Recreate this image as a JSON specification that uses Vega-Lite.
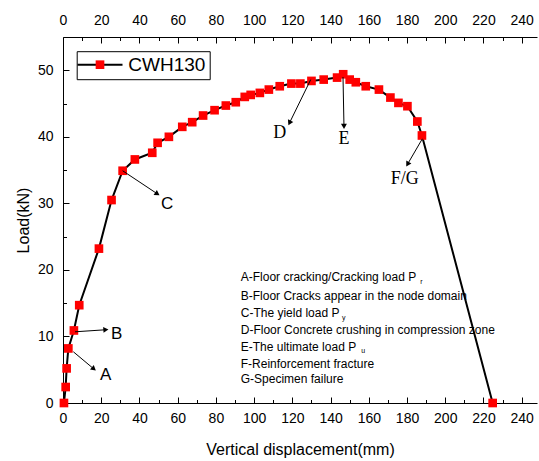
{
  "$schema": "https://vega.github.io/schema/vega-lite/v6.json",
  "width": 474,
  "height": 366,
  "autosize": {"type": "none"},
  "padding": {"left": 63, "top": 37, "right": 2, "bottom": 58},
  "background": "white",
  "config": {
    "view": {"stroke": null},
    "axis": {
      "labelFont": "Liberation Sans", "titleFont": "Liberation Sans",
      "labelColor": "black", "titleColor": "black",
      "domainColor": "black", "tickColor": "black",
      "grid": false, "labelFontSize": 14, "titleFontSize": 16,
      "titleFontWeight": "normal", "domainWidth": 1, "tickWidth": 1
    },
    "legend": {"strokeWidth": 1}
  },
  "datasets": {
    "curve": [
      {"disp": 0.5, "load": 0, "series": "CWH130"},
      {"disp": 1.4, "load": 2.4, "series": "CWH130"},
      {"disp": 1.9, "load": 5.2, "series": "CWH130"},
      {"disp": 2.8, "load": 8.2, "series": "CWH130"},
      {"disp": 5.7, "load": 10.9, "series": "CWH130"},
      {"disp": 8.5, "load": 14.7, "series": "CWH130"},
      {"disp": 18.8, "load": 23.2, "series": "CWH130"},
      {"disp": 25.4, "load": 30.5, "series": "CWH130"},
      {"disp": 31.2, "load": 34.9, "series": "CWH130"},
      {"disp": 37.6, "load": 36.6, "series": "CWH130"},
      {"disp": 46.7, "load": 37.6, "series": "CWH130"},
      {"disp": 49.5, "load": 39.1, "series": "CWH130"},
      {"disp": 55.4, "load": 40.0, "series": "CWH130"},
      {"disp": 62.4, "load": 41.5, "series": "CWH130"},
      {"disp": 67.6, "load": 42.2, "series": "CWH130"},
      {"disp": 73.3, "load": 43.2, "series": "CWH130"},
      {"disp": 79.3, "load": 44.0, "series": "CWH130"},
      {"disp": 85.2, "load": 44.7, "series": "CWH130"},
      {"disp": 90.4, "load": 45.2, "series": "CWH130"},
      {"disp": 95.1, "load": 46.0, "series": "CWH130"},
      {"disp": 98.2, "load": 46.3, "series": "CWH130"},
      {"disp": 103.0, "load": 46.6, "series": "CWH130"},
      {"disp": 107.7, "load": 47.1, "series": "CWH130"},
      {"disp": 113.4, "load": 47.6, "series": "CWH130"},
      {"disp": 119.5, "load": 48.0, "series": "CWH130"},
      {"disp": 124.2, "load": 48.0, "series": "CWH130"},
      {"disp": 130.0, "load": 48.4, "series": "CWH130"},
      {"disp": 136.4, "load": 48.6, "series": "CWH130"},
      {"disp": 143.4, "load": 48.9, "series": "CWH130"},
      {"disp": 146.6, "load": 49.4, "series": "CWH130"},
      {"disp": 150.0, "load": 48.6, "series": "CWH130"},
      {"disp": 153.2, "load": 48.2, "series": "CWH130"},
      {"disp": 158.4, "load": 47.6, "series": "CWH130"},
      {"disp": 165.3, "load": 47.1, "series": "CWH130"},
      {"disp": 171.3, "load": 45.9, "series": "CWH130"},
      {"disp": 175.5, "load": 45.1, "series": "CWH130"},
      {"disp": 180.2, "load": 44.6, "series": "CWH130"},
      {"disp": 185.4, "load": 42.3, "series": "CWH130"},
      {"disp": 187.8, "load": 40.2, "series": "CWH130"},
      {"disp": 224.8, "load": 0, "series": "CWH130"}
    ],
    "arrows": [
      {"id": "A", "x": 5.4, "y": 7.7, "x2": 15.8, "y2": 5.2},
      {"id": "B", "x": 6.3, "y": 10.7, "x2": 22.0, "y2": 11.0},
      {"id": "C", "x": 31.2, "y": 34.9, "x2": 49.0, "y2": 31.5},
      {"id": "D", "x": 129.6, "y": 48.6, "x2": 118.7, "y2": 42.2},
      {"id": "E", "x": 146.5, "y": 49.0, "x2": 147.0, "y2": 41.7},
      {"id": "F/G", "x": 188.0, "y": 39.7, "x2": 180.5, "y2": 36.0}
    ],
    "sansLetters": [
      {"x": 22.3, "y": 4.2, "text": "A"},
      {"x": 28.1, "y": 10.4, "text": "B"},
      {"x": 54.5, "y": 29.9, "text": "C"}
    ],
    "serifLetters": [
      {"x": 113.4, "y": 40.6, "text": "D"},
      {"x": 147.0, "y": 39.6, "text": "E"},
      {"x": 178.8, "y": 33.6, "text": "F/G"}
    ],
    "notes": [
      {"x": 93.0, "y": 18.98, "text": "A-Floor cracking/Cracking load P"},
      {"x": 93.0, "y": 16.12, "text": "B-Floor Cracks appear in the node domain"},
      {"x": 93.0, "y": 13.57, "text": "C-The yield load P"},
      {"x": 93.0, "y": 10.97, "text": "D-Floor Concrete crushing in compression zone"},
      {"x": 93.0, "y": 8.46, "text": "E-The ultimate load P"},
      {"x": 93.0, "y": 5.86, "text": "F-Reinforcement fracture"},
      {"x": 93.0, "y": 3.56, "text": "G-Specimen failure"}
    ],
    "subs": [
      {"x": 186.9, "y": 18.23, "text": "r"},
      {"x": 146.0, "y": 12.73, "text": "y"},
      {"x": 156.1, "y": 7.86, "text": "u"}
    ]
  },
  "resolve": {"axis": {"x": "independent", "y": "independent"}},
  "layer": [
    {
      "data": {"name": "curve"},
      "mark": {"type": "line", "strokeWidth": 2},
      "encoding": {
        "x": {"field": "disp", "type": "quantitative",
          "scale": {"domain": [0, 248], "nice": false, "zero": false},
          "axis": {"orient": "bottom", "values": [0,20,40,60,80,100,120,140,160,180,200,220,240],
            "tickSize": -6, "labelPadding": 14, "title": "Vertical displacement(mm)", "titlePadding": 16, "labelFlush": false}},
        "y": {"field": "load", "type": "quantitative",
          "scale": {"domain": [0, 55], "nice": false},
          "axis": {"orient": "left", "values": [0,10,20,30,40,50],
            "tickSize": -6, "labelPadding": 16, "title": "Load(kN)", "titlePadding": 6, "labelFlush": false}},
        "stroke": {"datum": "CWH130", "scale": {"range": ["black"]},
          "legend": {"orient": "none", "legendX": 13.7, "legendY": 14.2, "title": null,
            "symbolType": "M-5,0L5,0", "symbolSize": 81, "symbolStrokeWidth": 2, "symbolOffset": 9.8,
            "labelFont": "Liberation Sans", "labelFontSize": 19, "labelColor": "black",
            "labelOffset": 18.8, "strokeColor": "black", "fillColor": "white", "padding": 4}}
      }
    },
    {
      "data": {"name": "curve"},
      "mark": {"type": "point", "shape": "square", "filled": true, "size": 75, "opacity": 1, "strokeWidth": 0},
      "encoding": {
        "x": {"field": "disp", "type": "quantitative",
          "scale": {"domain": [0, 248], "nice": false, "zero": false},
          "axis": {"orient": "top", "values": [0,20,40,60,80,100,120,140,160,180,200,220,240],
            "tickSize": -6, "labelPadding": 16, "title": null, "labelFlush": false}},
        "y": {"field": "load", "type": "quantitative",
          "scale": {"domain": [0, 55], "nice": false},
          "axis": {"orient": "left", "values": [5,15,25,35,45], "tickSize": -3.5,
            "labels": false, "domain": false, "title": null}},
        "fill": {"field": "series", "type": "nominal", "scale": {"range": ["#ff0000"]},
          "legend": {"orient": "none", "legendX": 23.5, "legendY": 14.2, "title": null,
            "symbolType": "square", "symbolSize": 75, "symbolStrokeWidth": 0, "symbolOpacity": 1,
            "labelFont": "Liberation Sans", "labelFontSize": 19, "labelExpr": "''", "padding": 4,
            "strokeColor": "transparent"}}
      }
    },
    {
      "data": {"name": "arrows"},
      "mark": {"type": "rule", "strokeWidth": 1, "color": "black"},
      "encoding": {
        "x": {"field": "x", "type": "quantitative",
          "scale": {"domain": [0, 248], "nice": false, "zero": false},
          "axis": {"orient": "bottom", "values": [10,30,50,70,90,110,130,150,170,190,210,230],
            "tickSize": -3.5, "labels": false, "domain": false, "title": null}},
        "y": {"field": "y", "type": "quantitative", "scale": {"domain": [0, 55], "nice": false}, "axis": null},
        "x2": {"field": "x2"},
        "y2": {"field": "y2"}
      }
    },
    {
      "data": {"name": "arrows"},
      "transform": [{"calculate": "atan2((datum.x2-datum.x)*1.9113, (datum.y2-datum.y)*6.6545)*180/PI", "as": "ang"}],
      "mark": {"type": "point", "shape": "triangle", "filled": true, "size": 35, "opacity": 1, "color": "black", "strokeWidth": 0},
      "encoding": {
        "x": {"field": "x2", "type": "quantitative",
          "scale": {"domain": [0, 248], "nice": false, "zero": false},
          "axis": {"orient": "top", "values": [10,30,50,70,90,110,130,150,170,190,210,230],
            "tickSize": -3.5, "labels": false, "domain": false, "title": null}},
        "y": {"field": "y2", "type": "quantitative", "scale": {"domain": [0, 55], "nice": false}, "axis": null},
        "angle": {"field": "ang", "type": "quantitative", "scale": null}
      }
    },
    {
      "data": {"name": "sansLetters"},
      "mark": {"type": "text", "font": "Liberation Sans", "fontSize": 17, "color": "black", "baseline": "middle", "align": "center"},
      "encoding": {
        "x": {"field": "x", "type": "quantitative", "axis": null},
        "y": {"field": "y", "type": "quantitative", "axis": null},
        "text": {"field": "text"}
      }
    },
    {
      "data": {"name": "serifLetters"},
      "mark": {"type": "text", "font": "Liberation Serif", "fontSize": 18, "color": "black", "baseline": "middle", "align": "center"},
      "encoding": {
        "x": {"field": "x", "type": "quantitative", "axis": null},
        "y": {"field": "y", "type": "quantitative", "axis": null},
        "text": {"field": "text"}
      }
    },
    {
      "data": {"name": "notes"},
      "mark": {"type": "text", "font": "Liberation Sans", "fontSize": 12, "color": "black", "baseline": "middle", "align": "left"},
      "encoding": {
        "x": {"field": "x", "type": "quantitative", "axis": null},
        "y": {"field": "y", "type": "quantitative", "axis": null},
        "text": {"field": "text"}
      }
    },
    {
      "data": {"name": "subs"},
      "mark": {"type": "text", "font": "Liberation Sans", "fontSize": 7, "color": "black", "baseline": "middle", "align": "left"},
      "encoding": {
        "x": {"field": "x", "type": "quantitative", "axis": null},
        "y": {"field": "y", "type": "quantitative", "axis": null},
        "text": {"field": "text"}
      }
    }
  ]
}
